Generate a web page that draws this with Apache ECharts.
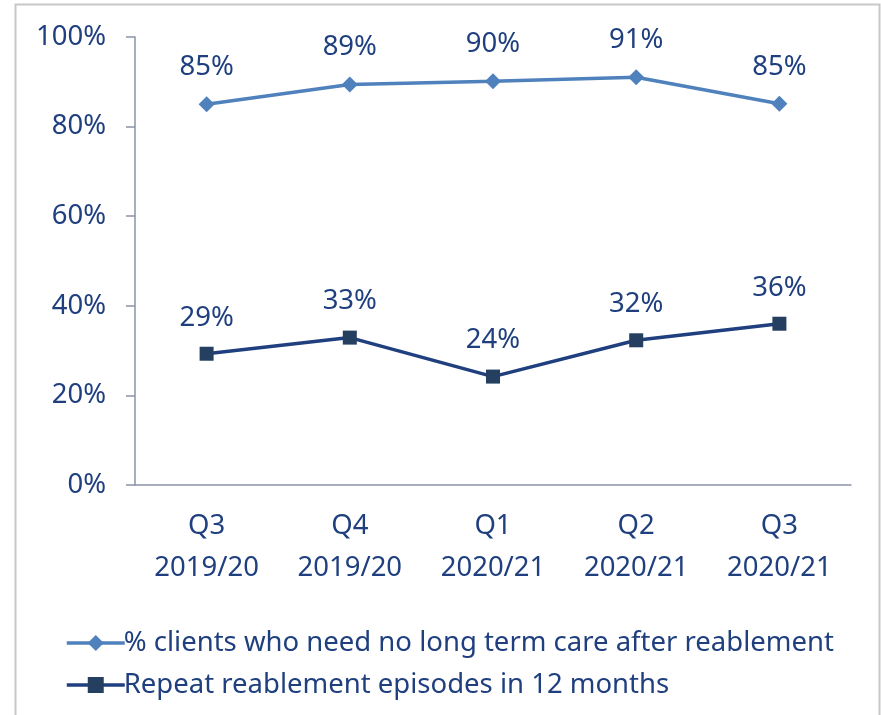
<!DOCTYPE html>
<html>
<head>
<meta charset="utf-8">
<script src="https://cdn.jsdelivr.net/npm/echarts@6/dist/echarts.min.js"></script>
<style>
  html, body { margin: 0; padding: 0; background: #fff; }
  #main { width: 881px; height: 715px; }
</style>
</head>
<body>
<div id="main"></div>
<script>
var quarters = ['Q3\n2019/20', 'Q4\n2019/20', 'Q1\n2020/21', 'Q2\n2020/21', 'Q3\n2020/21'];
var noLongTermCare = [85.0, 89.4, 90.1, 91.0, 85.1];
var repeatEpisodes = [29.3, 32.9, 24.2, 32.3, 36.0];
var yTicks = [0, 20, 40, 60, 80, 100];

var textColor = '#1F3F7F';
var axisColor = '#8A93A8';
var font = 'Noto Sans';
var fs = 27.5;

var chart = echarts.init(document.getElementById('main'));

function pct(p) { return Math.round(p.value) + '%'; }

chart.setOption({
  animation: false,
  textStyle: { fontFamily: font },
  graphic: [{
    type: 'rect',
    shape: { x: 15.5, y: 4.5, width: 864, height: 720 },
    style: { fill: 'none', stroke: '#C8C8C8', lineWidth: 2 }
  }],
  grid: { left: 135, right: 30, top: 37, bottom: 230 },
  legend: {
    orient: 'vertical',
    left: 60,
    top: 624,
    itemWidth: 58,
    itemHeight: 20,
    itemGap: 14,
    lineStyle: { width: 3.5 },
    textStyle: { color: textColor, fontSize: fs, fontFamily: font, padding: [0, 0, 0, -6] },
    data: ['% clients who need no long term care after reablement', 'Repeat reablement episodes in 12 months']
  },
  xAxis: {
    type: 'category',
    data: quarters,
    boundaryGap: true,
    axisLine: { lineStyle: { color: axisColor, width: 1.5 } },
    axisTick: { length: 9, lineStyle: { color: axisColor, width: 1.5 } },
    axisLabel: { color: textColor, fontSize: fs, lineHeight: 42, margin: 20, interval: 0 }
  },
  yAxis: {
    type: 'value',
    min: yTicks[0],
    max: yTicks[yTicks.length - 1],
    interval: 20,
    splitLine: { show: false },
    axisLine: { show: true, lineStyle: { color: axisColor, width: 1.5 } },
    axisTick: { show: true, length: 9, lineStyle: { color: axisColor, width: 1.5 } },
    axisLabel: { color: textColor, fontSize: fs, margin: 29, formatter: '{value}%' }
  },
  series: [{
    name: '% clients who need no long term care after reablement',
    type: 'line',
    data: noLongTermCare,
    symbol: 'diamond',
    symbolSize: 16,
    lineStyle: { color: '#4F81BD', width: 3.5 },
    itemStyle: { color: '#4F81BD' },
    label: { show: true, position: 'top', distance: 15, color: textColor, fontSize: fs, formatter: pct }
  }, {
    name: 'Repeat reablement episodes in 12 months',
    type: 'line',
    data: repeatEpisodes,
    symbol: 'rect',
    symbolSize: 14,
    lineStyle: { color: '#1F3F7F', width: 3.5 },
    itemStyle: { color: '#243F60' },
    label: { show: true, position: 'top', distance: 15, color: textColor, fontSize: fs, formatter: pct }
  }]
});
</script>
</body>
</html>
